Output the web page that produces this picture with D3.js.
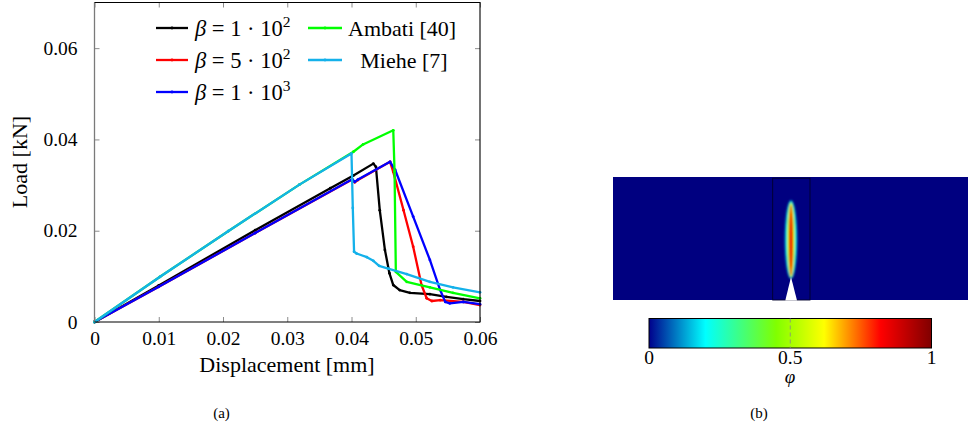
<!DOCTYPE html>
<html>
<head>
<meta charset="utf-8">
<script src="https://cdn.jsdelivr.net/npm/d3@7"></script>
<style>
  body { margin: 0; background: #fff; }
  text { font-family: "Liberation Serif", "Times New Roman", serif; fill: #000; }
</style>
</head>
<body>
<svg id="fig" width="971" height="428"></svg>
<script>
// load-displacement curves
const xTicks = [0, 0.01, 0.02, 0.03, 0.04, 0.05, 0.06];
const xTickLabels = ['0', '0.01', '0.02', '0.03', '0.04', '0.05', '0.06'];
const yTicks = [0, 0.02, 0.04, 0.06];
const yTickLabels = ['0', '0.02', '0.04', '0.06'];

const beta1e2X = [0, 0.010, 0.025, 0.0367, 0.0403, 0.0434, 0.0438, 0.0444, 0.0452, 0.0459, 0.0465, 0.0475, 0.0491, 0.0522, 0.0548, 0.0574, 0.06];
const beta1e2Y = [0, 0.0080, 0.0201, 0.0293, 0.0321, 0.0347, 0.0340, 0.0245, 0.0158, 0.0107, 0.0081, 0.0070, 0.0064, 0.0061, 0.0055, 0.0050, 0.0046];

const beta5e2X = [0, 0.010, 0.025, 0.0401, 0.0405, 0.0410, 0.0460, 0.0465, 0.0481, 0.0496, 0.0509, 0.0517, 0.0525, 0.0538, 0.0574, 0.06];
const beta5e2Y = [0, 0.0077, 0.0195, 0.0312, 0.0306, 0.0311, 0.0351, 0.0329, 0.0245, 0.0165, 0.0081, 0.0052, 0.0046, 0.0048, 0.0044, 0.0037];

const beta1e3X = [0, 0.010, 0.025, 0.0401, 0.0405, 0.0410, 0.0460, 0.0468, 0.0496, 0.0522, 0.0538, 0.0546, 0.0553, 0.0574, 0.06];
const beta1e3Y = [0, 0.0077, 0.0195, 0.0313, 0.0307, 0.0312, 0.0351, 0.0333, 0.0231, 0.0136, 0.0070, 0.0044, 0.0041, 0.0044, 0.0039];

const ambatiX = [0, 0.0102, 0.0208, 0.0319, 0.0403, 0.0418, 0.0465, 0.0467, 0.0469, 0.0486, 0.0522, 0.0558, 0.06];
const ambatiY = [0, 0.0099, 0.0199, 0.0301, 0.0373, 0.0389, 0.0420, 0.0330, 0.0110, 0.0088, 0.0076, 0.0064, 0.0052];

const mieheX = [0, 0.0102, 0.0208, 0.0319, 0.0400, 0.0402, 0.0404, 0.0408, 0.0424, 0.0434, 0.0443, 0.0457, 0.0486, 0.0522, 0.0558, 0.06];
const mieheY = [0, 0.0099, 0.0199, 0.0301, 0.0369, 0.0250, 0.0154, 0.0150, 0.0142, 0.0134, 0.0123, 0.0117, 0.0105, 0.0088, 0.0076, 0.0065];

const seriesNames = ['beta1e2', 'beta5e2', 'beta1e3', 'ambati', 'miehe'];
const seriesColors = ['#000000', '#ff0000', '#0000ff', '#00ff00', '#14b1ea'];

// colorbar (phase field) ticks and jet-like colormap
const cbarTicks = [0, 0.5, 1];
const cbarTickLabels = ['0', '0.5', '1'];
const cmapStops = [0, 0.2, 0.45, 0.62, 0.82, 1];
const cmapColors = ['#00008c', '#00ffff', '#80ff00', '#ffff00', '#ff0000', '#800000'];

const svg = d3.select('#fig');

// ---------- panel (a) ----------
const plot = { left: 94.5, right: 480, top: 2.5, bottom: 322 };
const x = d3.scaleLinear().domain([0, 0.06]).range([plot.left, plot.right]);
const y = d3.scaleLinear().domain([0, 0.07]).range([plot.bottom, plot.top]);

const ga = svg.append('g');

// ticks on all four sides, pointing inward
const xAxis = d3.axisBottom(x).tickValues(xTicks).tickFormat((d, i) => xTickLabels[i]).tickSizeInner(-5).tickSizeOuter(0).tickPadding(9);
const xAxisTop = d3.axisTop(x).tickValues(xTicks).tickFormat('').tickSizeInner(-5).tickSizeOuter(0);
const yAxis = d3.axisLeft(y).tickValues(yTicks).tickFormat((d, i) => yTickLabels[i]).tickSizeInner(-5).tickSizeOuter(0).tickPadding(17);
const yAxisRight = d3.axisRight(y).tickValues(yTicks).tickFormat('').tickSizeInner(-5).tickSizeOuter(0);

function styleAxis(g) {
    g.select('.domain').remove();
    g.selectAll('.tick line').attr('stroke', '#8c8c8c').attr('stroke-width', 1);
    g.selectAll('.tick text')
        .style('font-family', '"Liberation Serif", serif')
        .style('font-size', '19.5px')
        .attr('fill', '#000');
}

ga.append('g').attr('transform', `translate(0,${plot.bottom})`).call(xAxis).call(styleAxis);
ga.append('g').attr('transform', `translate(0,${plot.top})`).call(xAxisTop).call(styleAxis);
ga.append('g').attr('transform', `translate(${plot.left},0)`).call(yAxis).call(styleAxis);
ga.append('g').attr('transform', `translate(${plot.right},0)`).call(yAxisRight).call(styleAxis);

// curves
const seriesData = [
    d3.zip(beta1e2X, beta1e2Y),
    d3.zip(beta5e2X, beta5e2Y),
    d3.zip(beta1e3X, beta1e3Y),
    d3.zip(ambatiX, ambatiY),
    d3.zip(mieheX, mieheY)
];

const line = d3.line().x(d => x(d[0])).y(d => y(d[1]));

const curves = ga.append('g');
seriesData.forEach((pts, i) => {
    curves.append('path')
        .datum(pts)
        .attr('d', line)
        .attr('fill', 'none')
        .attr('stroke', seriesColors[i])
        .attr('stroke-width', 2.3)
        .attr('stroke-linejoin', 'round');
    curves.selectAll(`.m-${seriesNames[i]}`)
        .data(pts)
        .join('circle')
        .attr('class', `m-${seriesNames[i]}`)
        .attr('cx', d => x(d[0]))
        .attr('cy', d => y(d[1]))
        .attr('r', 1.4)
        .attr('fill', seriesColors[i]);
});

// frame: grey left spine, black elsewhere
ga.append('line').attr('x1', plot.left).attr('x2', plot.left).attr('y1', plot.top).attr('y2', plot.bottom)
    .attr('stroke', '#7a7a7a').attr('stroke-width', 1.3);
ga.append('path')
    .attr('d', `M${plot.left},${plot.top}H${plot.right}V${plot.bottom}H${plot.left}`)
    .attr('fill', 'none').attr('stroke', '#000').attr('stroke-width', 1.1);

// axis labels
ga.append('text').attr('x', 287).attr('y', 372).attr('text-anchor', 'middle')
    .style('font-size', '22px').text('Displacement [mm]');
ga.append('text').attr('transform', 'translate(27,162) rotate(-90)').attr('text-anchor', 'middle')
    .style('font-size', '22px').text('Load [kN]');

// legend
const legendItems = [
    { col: 0, row: 0, base: '1', exp: '2' },
    { col: 0, row: 1, base: '5', exp: '2' },
    { col: 0, row: 2, base: '1', exp: '3' },
    { col: 1, row: 0, label: 'Ambati [40]' },
    { col: 1, row: 1, label: 'Miehe [7]' }
];
const legendCols = [{ x0: 156, x1: 188, tx: 195 }, { x0: 308, x1: 342, tx: 348 }];
const legendRowY = [28, 60, 92];

const lg = ga.append('g');
legendItems.forEach((it, i) => {
    const c = legendCols[it.col];
    const ry = legendRowY[it.row];
    lg.append('line').attr('x1', c.x0).attr('x2', c.x1).attr('y1', ry).attr('y2', ry)
        .attr('stroke', seriesColors[i]).attr('stroke-width', 2.3);
    lg.append('circle').attr('cx', (c.x0 + c.x1) / 2).attr('cy', ry).attr('r', 1.4).attr('fill', seriesColors[i]);
    if (it.label) {
        const t = lg.append('text').attr('y', ry + 7.5).style('font-size', '22px').text(it.label);
        if (it.row === 1) t.attr('x', 404).attr('text-anchor', 'middle');
        else t.attr('x', c.tx);
    } else {
        const t = lg.append('text').attr('x', c.tx).attr('y', ry + 7.5).style('font-size', '22.5px');
        t.append('tspan').style('font-style', 'italic').text('β');
        t.append('tspan').text(` = ${it.base} · 10`);
        t.append('tspan').attr('dy', -9).style('font-size', '15.5px').text(it.exp);
    }
});

// caption (a)
svg.append('text').attr('x', 221.5).attr('y', 418).attr('text-anchor', 'middle')
    .style('font-size', '15px').text('(a)');

// ---------- panel (b) ----------
const gb = svg.append('g');
const defs = svg.append('defs');

const spec = { left: 613, right: 968, top: 177, bottom: 300 };
gb.append('rect').attr('x', spec.left).attr('y', spec.top)
    .attr('width', spec.right - spec.left).attr('height', spec.bottom - spec.top)
    .attr('fill', '#000080');

// refined zone outline
gb.append('rect').attr('x', 772.7).attr('y', spec.top + 1.2).attr('width', 37.3).attr('height', spec.bottom - spec.top - 1.2)
    .attr('fill', 'none').attr('stroke', '#00002a').attr('stroke-width', 0.9);

// phase field band, drawn as nested blurred ellipses in colormap colours
defs.append('filter').attr('id', 'soft').attr('x', '-100%').attr('y', '-20%').attr('width', '300%').attr('height', '140%')
    .append('feGaussianBlur').attr('stdDeviation', 0.9);

const cmap = d3.scaleLinear().domain(cmapStops).range(cmapColors).interpolate(d3.interpolateRgb);
const bandLevels = [0.1, 0.22, 0.45, 0.65, 0.85];
const bandRx = [6.4, 5.2, 3.9, 2.9, 1.8];
const bandRy = [39.5, 38.5, 37.5, 36.5, 35];
const band = gb.append('g').attr('filter', 'url(#soft)');
bandLevels.forEach((lv, i) => {
    band.append('ellipse').attr('cx', 791).attr('cy', 239.5 + (39.5 - bandRy[i]) * 0.2)
        .attr('rx', bandRx[i]).attr('ry', bandRy[i]).attr('fill', cmap(lv));
});

// initial notch
gb.append('path').attr('d', 'M785.3,300.5L791,277L797,300.5Z').attr('fill', '#fff');

// colorbar
const cb = { left: 649, right: 931.5, top: 318.5, bottom: 348 };
const grad = defs.append('linearGradient').attr('id', 'jet').attr('x1', 0).attr('x2', 1).attr('y1', 0).attr('y2', 0);
cmapStops.forEach((s, i) => grad.append('stop').attr('offset', s).attr('stop-color', cmapColors[i]));

const cx = d3.scaleLinear().domain([0, 1]).range([cb.left, cb.right]);
gb.append('rect').attr('x', cb.left).attr('y', cb.top).attr('width', cb.right - cb.left).attr('height', cb.bottom - cb.top)
    .attr('fill', 'url(#jet)').attr('stroke', '#000').attr('stroke-width', 1);
gb.append('line').attr('x1', cx(0.5)).attr('x2', cx(0.5)).attr('y1', cb.top).attr('y2', cb.bottom)
    .attr('stroke', '#888').attr('stroke-width', 0.8).attr('stroke-dasharray', '4,3');

gb.selectAll('.cbtick').data(cbarTicks).join('text')
    .attr('class', 'cbtick')
    .attr('x', d => cx(d)).attr('y', 364).attr('text-anchor', 'middle')
    .style('font-size', '19.5px')
    .text((d, i) => cbarTickLabels[i]);

gb.append('text').attr('x', 790).attr('y', 383).attr('text-anchor', 'middle')
    .style('font-size', '19px').style('font-style', 'italic').text('φ');

// caption (b)
svg.append('text').attr('x', 759).attr('y', 418).attr('text-anchor', 'middle')
    .style('font-size', '15px').text('(b)');
</script>
</body>
</html>
